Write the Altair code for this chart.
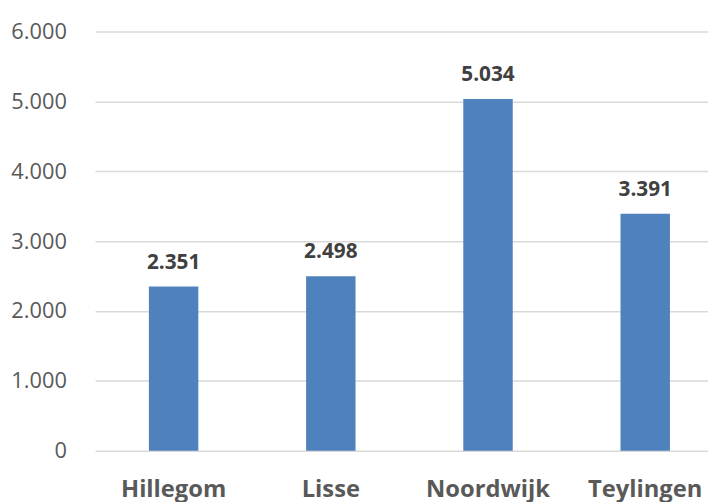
import altair as alt
import pandas as pd

categories = ["Hillegom", "Lisse", "Noordwijk", "Teylingen"]
values = [2351, 2498, 5034, 3391]
value_labels = ["2.351", "2.498", "5.034", "3.391"]

df = pd.DataFrame({"gemeente": categories, "aantal": values, "label": value_labels})

FONT = "Open Sans"

x = alt.X(
    "gemeente:N",
    sort=categories,
    title=None,
    scale=alt.Scale(range=[0, 636], paddingInner=0, paddingOuter=0),
    axis=alt.Axis(
        labelAngle=0,
        labelFont=FONT,
        labelFontSize=24,
        labelFontWeight="bold",
        labelColor="#595959",
        labelBaseline="alphabetic",
        labelPadding=46,
        ticks=False,
        domain=False,
        grid=False,
    ),
)

y = alt.Y(
    "aantal:Q",
    title=None,
    scale=alt.Scale(domain=[0, 6000], nice=False),
    axis=alt.Axis(
        values=[0, 1000, 2000, 3000, 4000, 5000, 6000],
        labelExpr="replace(format(datum.value, ','), ',', '.')",
        labelFont=FONT,
        labelFontSize=22,
        labelColor="#595959",
        labelPadding=29,
        ticks=False,
        domain=False,
        grid=True,
        gridColor="#D9D9D9",
        gridWidth=1.5,
    ),
)

bars = alt.Chart(df).mark_bar(color="#4F81BD", size=50).encode(x=x, y=y)

labels = alt.Chart(df).mark_text(
    font=FONT,
    fontSize=21,
    fontWeight="bold",
    color="#404040",
    baseline="alphabetic",
    dy=-18,
).encode(x=x, y=y, text="label:N")

chart = (
    alt.layer(bars, labels)
    .properties(
        width=620,
        height=424,
        background="white",
        autosize=alt.AutoSizeParams(type="none"),
        padding={"left": 88, "top": 21, "right": 0, "bottom": 49},
    )
    .configure_view(strokeWidth=0, stroke="transparent")
)

chart.save("out.html", embed_options={"renderer": "svg", "actions": False})
